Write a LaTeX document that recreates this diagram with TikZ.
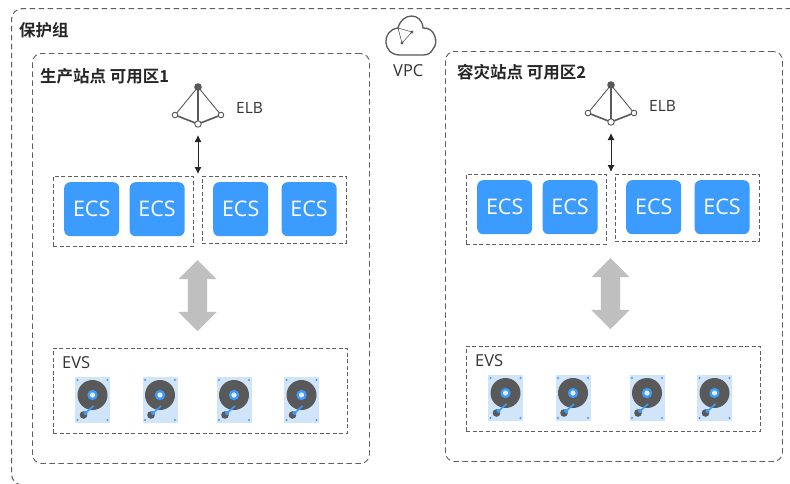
\documentclass[tikz,border=0pt]{standalone}
\usepackage{fontspec}
\setmainfont{Open Sans}
\newfontfamily\cjkbold[BoldFont=Noto Sans CJK SC Bold]{Noto Sans CJK SC}
\usetikzlibrary{arrows.meta,positioning,shapes.arrows}
\definecolor{ecsblue}{HTML}{3C9BFF}
\definecolor{diskbg}{HTML}{D0E4FA}
\definecolor{diskgray}{HTML}{595959}
\definecolor{dashgray}{HTML}{5F5F5F}
\definecolor{biggray}{HTML}{BFBFBF}
\tikzset{
    groupbox/.style={draw=dashgray, dash pattern=on 5.5pt off 3.5pt, line width=0.9pt, rounded corners=9pt, anchor=north west},
    innerbox/.style={draw=dashgray, dash pattern=on 4pt off 2.5pt, line width=0.8pt, anchor=north west},
    ecsbox/.style={fill=ecsblue, text=white, rounded corners=6pt, minimum width=55pt, minimum height=54pt, font=\fontsize{21.5}{24}\selectfont, inner sep=0pt, anchor=north west},
    title/.style={font=\cjkbold\bfseries\fontsize{16.5}{18}\selectfont, text=black!85, inner sep=0pt, anchor=west},
    plain/.style={font=\fontsize{15.5}{18}\selectfont, text=black!80, inner sep=0pt, anchor=west},
    twoway/.style={{Latex[length=7pt,width=7pt]}-{Latex[length=7pt,width=7pt]}, line width=0.9pt, black!85},
    bigarrow/.style={double arrow, fill=biggray, shape border rotate=90, minimum width=38pt, minimum height=71pt, double arrow head extend=9.5pt, double arrow tip angle=90, inner sep=9.5pt},
    disk/.pic={
        \fill[diskbg] (-17.5,-23) rectangle (17.5,23);
        \foreach \dx/\dy in {-15/-20,15/-20,-15/20,15/20}
            \fill[ecsblue] (\dx,\dy) circle (1.2pt);
        \fill[diskgray] (0,-5) circle (15pt);
        \fill[ecsblue] (0,-5) circle (5.2pt);
        \fill[white!85!ecsblue] (0,-5) circle (2.6pt);
        \draw[ecsblue, line width=1.6pt] (-8,14) -- (1,6);
        \fill[diskgray] (-9,15) circle (3.8pt);
        \fill[ecsblue] (-7,13) circle (2pt);
    },
    elbicon/.pic={
        \draw[diskgray, line width=0.9pt] (-23,9) -- (0,-19) -- (23,9);
        \draw[diskgray, line width=1.6pt] (-23,9) -- (0,18) -- (23,9);
        \draw[diskgray, line width=1.8pt] (0,-19) -- (0,18);
        \fill[diskgray] (0,-19) circle (3.8pt);
        \foreach \ex/\ey/\er in {-23/9/2.8,23/9/2.8,0/18/3.2}
            \filldraw[draw=diskgray, fill=white, line width=0.9pt] (\ex,\ey) circle (\er pt);
    },
    cloudicon/.pic={
        \draw[diskgray, line width=1.3pt]
            (-10,16) .. controls (-28,16) and (-29,-9) .. (-12,-11)
            .. controls (-8,-27) and (12,-27) .. (13,-11)
            .. controls (25,-12) and (29,4) .. (23,10)
            .. controls (21,14) and (18,16) .. (13,16) -- cycle;
        \draw[diskgray, line width=0.6pt] (-12,-11) -- (2,-7) -- (-8,4) -- cycle;
        \fill[diskgray] (2,-7) circle (1.6pt);
        \fill[diskgray] (-8,4) circle (1.6pt);
    },
}
\newcommand{\sitepart}[4]{%
\begin{scope}[shift={(#1)}]
% Availability zone
\node[groupbox, minimum width=337pt, minimum height=410pt] (#2zone) at (32,53) {};
\node[title] (#2title) at (#4) {#3};

% Load balancer
\pic at (198,106) {elbicon};
\coordinate (#2elb) at (198,135);
\node[plain] (#2elbtext) at (236,108) {ELB};

% Compute groups
\node[innerbox, minimum width=140pt, minimum height=70pt] (#2left) at (53,176) {};
\node[innerbox, minimum width=144pt, minimum height=67pt] (#2right) at (202,176) {};
\node[ecsbox] (#2ecsa) at (64,182) {ECS};
\node[ecsbox, right=10pt of #2ecsa] (#2ecsb) {ECS};
\node[ecsbox] (#2ecsc) at (213,182) {ECS};
\node[ecsbox, right=13pt of #2ecsc] (#2ecsd) {ECS};
\coordinate (#2top) at (198,174);

% Arrows
\draw[twoway] (#2elb) -- (#2top);
\node[bigarrow] (#2updown) at (197.5,295.5) {};

% Storage
\node[innerbox, minimum width=294pt, minimum height=85pt] (#2evs) at (53,348) {};
\node[plain, font=\fontsize{16.5}{18}\selectfont] (#2evstext) at (62,363) {EVS};
\foreach \px in {92.5,160,234,301.5}
    \pic at (\px,400) {disk};
\end{scope}}

\begin{document}
\begin{tikzpicture}[x=1pt, y=-1pt]
\useasboundingbox (0,0) rectangle (790,483);
\fill[white] (0,0) rectangle (790,483);

% Protection group, runs off the page
\draw[groupbox, line width=1pt, rounded corners=11pt] (800,8.5) -- (11.5,8.5) -- (11.5,485) -- (800,485);
\node[title] (group) at (19,30) {保护组};

% VPC
\pic at (410,39) {cloudicon};
\node[plain, font=\fontsize{16.5}{18}\selectfont] (vpc) at (393,71) {VPC};

\sitepart{0,0}{a}{生产站点 可用区1}{40,76}
\sitepart{413,-2}{b}{容灾站点 可用区2}{44,74}
\end{tikzpicture}
\end{document}
